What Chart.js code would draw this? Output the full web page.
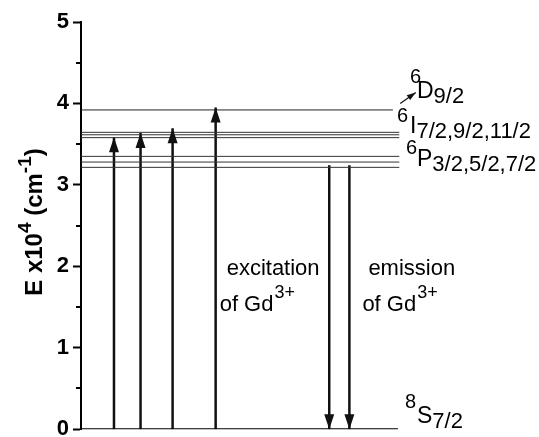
<!DOCTYPE html>
<html>
<head>
<meta charset="utf-8">
<script src="https://cdn.jsdelivr.net/npm/chart.js@4.4.1/dist/chart.umd.min.js"></script>
<style>
  body { margin: 0; background: #fff; }
  #wrap { width: 539px; height: 437px; position: relative; }
</style>
</head>
<body>
<div id="wrap"><canvas id="levels"></canvas></div>
<script>
// Gd3+ levels, E in 10^4 cm^-1
const levelEnergies = [3.215, 3.28, 3.35, 3.58, 3.615, 3.645];
const levelD = 3.92;
const groundLevel = 0;
const levelEnd = 6.95;
const levelDEnd = 6.81;

// arrows: x position (0..10 across the plot) and top energy
const excitationX = [0.72, 1.30, 2.00, 2.94];
const excitationTop = [3.585, 3.637, 3.695, 3.95];
const emissionX = [5.42, 5.86];
const emissionTop = [3.24, 3.24];

// little pointer to the 6D label
const pointerX = [6.97, 7.31];
const pointerY = [4.0, 4.135];

const yTicks = [0, 1, 2, 3, 4, 5];

const FONT = '"Liberation Sans", Arial, sans-serif';

const datasets = [];

// ground level 8S7/2
datasets.push({
    data: [{x: 0, y: groundLevel}, {x: levelEnd - 0.03, y: groundLevel}],
    borderColor: "#000", borderWidth: 2
});
levelEnergies.forEach(function(e) {
    datasets.push({
        data: [{x: 0, y: e}, {x: levelEnd, y: e}],
        borderColor: "#333", borderWidth: 1
    });
});
datasets.push({
    data: [{x: 0, y: levelD}, {x: levelDEnd, y: levelD}],
    borderColor: "#222", borderWidth: 1
});
excitationX.forEach(function(x, i) {
    datasets.push({
        data: [{x: x, y: groundLevel}, {x: x, y: excitationTop[i]}],
        borderColor: "#111", borderWidth: 2.5, arrowHead: {len: 15, wid: 10}
    });
});
emissionX.forEach(function(x, i) {
    datasets.push({
        data: [{x: x, y: emissionTop[i]}, {x: x, y: groundLevel}],
        borderColor: "#111", borderWidth: 2.5, arrowHead: {len: 15, wid: 10}
    });
});
datasets.push({
    data: [{x: pointerX[0], y: pointerY[0]}, {x: pointerX[1], y: pointerY[1]}],
    borderColor: "#111", borderWidth: 1.2, arrowHead: {len: 9, wid: 6}
});

// рисуем наконечники стрелок
const arrowPlugin = {
    id: "arrows",
    afterDatasetsDraw: function(chart) {
        const ctx = chart.ctx;
        chart.data.datasets.forEach(function(ds, i) {
            if (!ds.arrowHead) return;
            const pts = chart.getDatasetMeta(i).data;
            const tip = pts[pts.length - 1], prev = pts[pts.length - 2];
            const a = Math.atan2(tip.y - prev.y, tip.x - prev.x);
            const L = ds.arrowHead.len, W = ds.arrowHead.wid / 2;
            ctx.save();
            ctx.translate(tip.x, tip.y);
            ctx.rotate(a);
            ctx.fillStyle = ds.borderColor;
            ctx.beginPath();
            ctx.moveTo(0, 0);
            ctx.lineTo(-L, -W);
            ctx.lineTo(-L, W);
            ctx.closePath();
            ctx.fill();
            ctx.restore();
        });
    }
};

function drawLabel(ctx, supX, mainX, base, supDy, sup, main, sub) {
    ctx.fillStyle = "#000";
    ctx.textBaseline = "alphabetic";
    ctx.textAlign = "left";
    ctx.font = "20px " + FONT;
    ctx.fillText(sup, supX, base + supDy);
    ctx.font = "23px " + FONT;
    ctx.fillText(main, mainX, base);
    const w = ctx.measureText(main).width;
    ctx.font = "22px " + FONT;
    ctx.fillText(sub, mainX + w, base + 5);
}

// подписи уровней, тексты и ось Y
const textPlugin = {
    id: "texts",
    afterDraw: function(chart) {
        const ctx = chart.ctx;
        const ys = chart.scales.y, xs = chart.scales.x;
        const left = chart.chartArea.left;
        ctx.save();

        // minor ticks
        ctx.strokeStyle = "#000";
        ctx.lineWidth = 2;
        for (let v = 0.5; v < 5; v += 1) {
            const py = Math.round(ys.getPixelForValue(v));
            ctx.beginPath();
            ctx.moveTo(left - 5, py);
            ctx.lineTo(left, py);
            ctx.stroke();
        }

        drawLabel(ctx, 410, 417, ys.getPixelForValue(levelD) - 12, -15, "6", "D", "9/2");
        drawLabel(ctx, 397, 410, ys.getPixelForValue(levelEnergies[5]) + 1, -11, "6", "I", "7/2,9/2,11/2");
        drawLabel(ctx, 406, 417, ys.getPixelForValue(levelEnergies[2]) + 10, -12, "6", "P", "3/2,5/2,7/2");
        drawLabel(ctx, 405, 417, ys.getPixelForValue(groundLevel) - 6, -15, "8", "S", "7/2");

        // excitation / emission
        const exX = xs.getPixelForValue(excitationX[3]);
        const emX = xs.getPixelForValue(emissionX[1]);
        const b1 = ys.getPixelForValue(2) + 9, b2 = b1 + 36;
        ctx.font = "22px " + FONT;
        ctx.fillText("excitation", exX + 11, b1);
        ctx.fillText("of Gd", exX + 4, b2);
        let w = ctx.measureText("of Gd").width;
        ctx.font = "18px " + FONT;
        ctx.fillText("3+", exX + 5 + w, b2 - 13);
        ctx.font = "22px " + FONT;
        ctx.fillText("emission", emX + 19, b1);
        ctx.fillText("of Gd", emX + 13, b2);
        ctx.font = "18px " + FONT;
        ctx.fillText("3+", emX + 14 + w, b2 - 13);

        // y title, rotated
        const parts = [
            ["E x10", "bold 24px ", 0],
            ["4", "bold 19px ", -11],
            [" (cm", "bold 24px ", 0],
            ["-1", "bold 19px ", -11],
            [")", "bold 24px ", 0]
        ];
        let total = 0;
        parts.forEach(function(p) { ctx.font = p[1] + FONT; total += ctx.measureText(p[0]).width; });
        ctx.translate(42, 222);
        ctx.rotate(-Math.PI / 2);
        let cx = -total / 2;
        parts.forEach(function(p) {
            ctx.font = p[1] + FONT;
            ctx.fillText(p[0], cx, p[2]);
            cx += ctx.measureText(p[0]).width;
        });
        ctx.restore();
    }
};

new Chart(document.getElementById("levels").getContext("2d"), {
    type: "line",
    data: { datasets: datasets },
    options: {
        responsive: true,
        maintainAspectRatio: false,
        animation: false,
        layout: { padding: { top: 22, bottom: 4, left: 0, right: 0 } },
        elements: { point: { radius: 0 }, line: { tension: 0, borderCapStyle: "butt" } },
        plugins: { legend: { display: false }, tooltip: { enabled: false } },
        scales: {
            x: { type: "linear", min: 0, max: 10, display: false },
            y: {
                type: "linear", min: 0, max: 5,
                afterFit: function(scale) { scale.width = 81; },
                afterBuildTicks: function(scale) {
                    const t = [];
                    yTicks.forEach(function(v) { t.push({value: v}); });
                    scale.ticks = t;
                },
                ticks: {
                    color: "#000",
                    padding: 4,
                    font: { family: FONT, size: 22, weight: "bold", lineHeight: 0.35 },
                    callback: function(v) { return String(v); }
                },
                grid: { drawOnChartArea: false, tickLength: 8, tickWidth: 2, tickColor: "#000" },
                border: { display: true, color: "#000", width: 2 }
            }
        }
    },
    plugins: [arrowPlugin, textPlugin]
});
</script>
</body>
</html>
